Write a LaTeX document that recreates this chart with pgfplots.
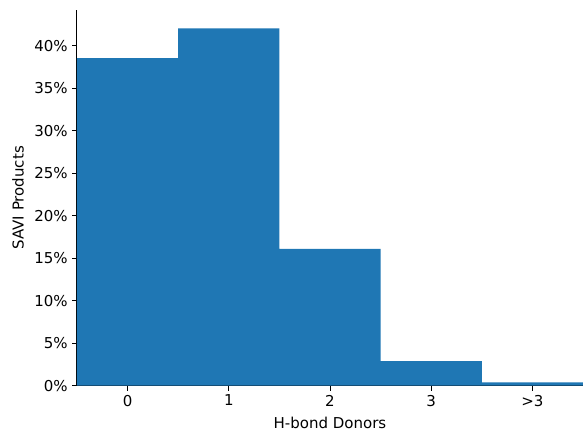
\documentclass[border=0pt]{standalone}
\usepackage{pgfplots}
\pgfplotsset{compat=1.18}
\usepackage{fontspec}
\setmainfont{DejaVu Sans}
\definecolor{mplblue}{HTML}{1F77B4}
\begin{document}
\begin{tikzpicture}[x=1pt,y=1pt]
\path[use as bounding box] (-77,-46.3) rectangle (506,385.7);
\begin{axis}[
  at={(0,0)}, anchor=south west,
  scale only axis, width=506pt, height=375.7pt,
  xmin=-0.5, xmax=4.5, ymin=0, ymax=44.2,
  axis x line*=bottom, axis y line*=left,
  axis line style={black, line width=1pt},
  xtick={0,1,2,3,4}, xticklabels={0,1,2,3,>3},
  ytick={0,5,10,15,20,25,30,35,40},
  yticklabel={\pgfmathprintnumber{\tick}\%},
  /pgf/number format/assume math mode=true,
  tick align=outside, tick style={black, line width=1pt},
  major tick length=4.8pt,
  tick label style={font=\fontsize{15}{18}\selectfont},
  label style={font=\fontsize{15}{18}\selectfont},
  yticklabel style={xshift=-1pt},
  xticklabel style={yshift=-1pt},
  xlabel={H-bond Donors}, ylabel={SAVI Products},
  xlabel style={at={(axis description cs:0.5,-0.0998)}, anchor=center},
  ylabel style={at={(axis description cs:-0.1166,0.5)}, anchor=center, rotate=0},
  ybar, bar width=1, bar shift=0,
]
\addplot[fill=mplblue, draw=none] coordinates {(0,38.55) (1,42.05) (2,16.1) (3,2.9) (4,0.4)};
\end{axis}
\end{tikzpicture}
\end{document}
